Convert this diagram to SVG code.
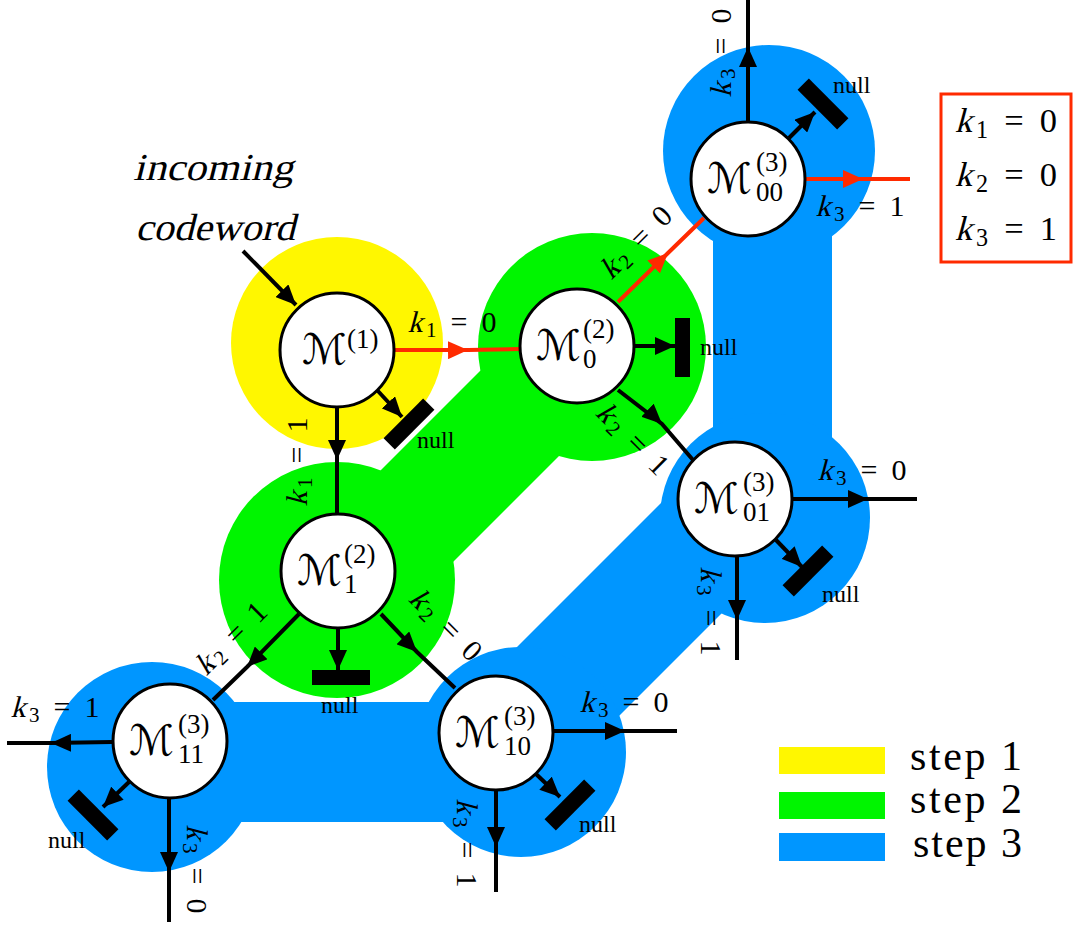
<svg xmlns="http://www.w3.org/2000/svg" width="1075" height="930" viewBox="0 0 1075 930">
<defs>
<marker id="ab" markerUnits="userSpaceOnUse" markerWidth="20" markerHeight="18" refX="20" refY="9" orient="auto" viewBox="0 0 20 18"><path d="M0,0 L20,9 L0,18 Z" fill="#000"/></marker>
<marker id="ar" markerUnits="userSpaceOnUse" markerWidth="20" markerHeight="18" refX="20" refY="9" orient="auto" viewBox="0 0 20 18"><path d="M0,0 L20,9 L0,18 Z" fill="#ff2a00"/></marker>
<style>
.node circle{fill:#fff;stroke:#000;stroke-width:3}
.c{fill:none;stroke:#000;stroke-width:4;marker-mid:url(#ab)}
.ce{fill:none;stroke:#000;stroke-width:4;marker-end:url(#ab)}
.cr{fill:none;stroke:#ff2a00;stroke-width:4;marker-mid:url(#ar)}
.bar{fill:#000}
text{font-family:"Liberation Serif",serif;fill:#000}
.e,.k{font-size:30px}
.s{font-size:21px}
.m{font-family:"DejaVu Serif","DejaVu Sans",serif;font-size:42px}
.ms{font-size:27px}
.nl{font-size:24px}
.lg{font-size:42px}
.y{fill:#fff700}.g{fill:#00f500}.b{fill:#0096ff}
</style>
</defs>

<g id="regions">
  <circle class="y" cx="337" cy="343" r="106"/>
  <circle class="g" cx="592" cy="347" r="114"/>
  <circle class="g" cx="337" cy="580" r="118"/>
  <polygon class="g" points="300,551 500,351 565,450 380,635"/>
  <circle class="b" cx="769" cy="151" r="106"/>
  <rect class="b" x="713" y="150" width="119" height="360"/>
  <circle class="b" cx="765" cy="518" r="105"/>
  <polygon class="b" points="690,474 775,560 575,760 500,664"/>
  <circle class="b" cx="521" cy="752" r="105"/>
  <circle class="b" cx="152" cy="767" r="105"/>
  <rect class="b" x="152" y="702" width="369" height="120"/>
</g>

<g id="connectors">
  <polyline class="ce" points="243,251 296,305"/>
  <polyline class="cr" points="394,350 468,350 520,349"/>
  <polyline class="c" points="337,407 337,460 337,513"/>
  <polyline class="ce" points="377,390 402,417"/>
  <polyline class="cr" points="618,302 668,253 704,218"/>
  <polyline class="ce" points="634,346 675,346"/>
  <polyline class="c" points="618,390 662,424 693,460"/>
  <polyline class="c" points="748,121 748,47 748,0"/>
  <polyline class="ce" points="789,138 815,112"/>
  <polyline class="cr" points="806,179 863,179 910,179"/>
  <polyline class="c" points="793,499 868,499 917,499"/>
  <polyline class="ce" points="776,540 802,567"/>
  <polyline class="c" points="737,557 737,620 737,660"/>
  <polyline class="c" points="299,614 247,667 213,700"/>
  <polyline class="ce" points="338,628 338,670"/>
  <polyline class="c" points="381,614 417,652 455,688"/>
  <polyline class="c" points="112,742 51,743 7,743"/>
  <polyline class="ce" points="129,782 103,807"/>
  <polyline class="c" points="169,799 169,872 169,922"/>
  <polyline class="c" points="553,731 625,731 677,731"/>
  <polyline class="ce" points="536,774 560,797"/>
  <polyline class="c" points="496,790 496,847 496,892"/>
</g>

<g id="edge-labels">
  <g transform="translate(453,323)"><text class="k" x="-43" y="9" transform="skewX(-15)">k</text><text class="e" x="-27" y="9"><tspan class="s" dy="5">1</tspan><tspan dx="14" dy="-5">=</tspan><tspan dx="14">0</tspan></text></g>
  <g transform="translate(298,461) rotate(-90)"><text class="k" x="-43" y="9" transform="skewX(-15)">k</text><text class="e" x="-27" y="9"><tspan class="s" dy="5">1</tspan><tspan dx="14" dy="-5">=</tspan><tspan dx="14">1</tspan></text></g>
  <g transform="translate(637,242) rotate(-45)"><text class="k" x="-43" y="9" transform="skewX(-15)">k</text><text class="e" x="-27" y="9"><tspan class="s" dy="4">2</tspan><tspan dx="14" dy="-4">=</tspan><tspan dx="14">0</tspan></text></g>
  <g transform="translate(633,440) rotate(45)"><text class="k" x="-43" y="9" transform="skewX(-15)">k</text><text class="e" x="-27" y="9"><tspan class="s" dy="4">2</tspan><tspan dx="14" dy="-4">=</tspan><tspan dx="14">1</tspan></text></g>
  <g transform="translate(722,52) rotate(-90)"><text class="k" x="-43" y="9" transform="skewX(-15)">k</text><text class="e" x="-27" y="9"><tspan class="s" dy="4">3</tspan><tspan dx="14" dy="-4">=</tspan><tspan dx="14">0</tspan></text></g>
  <g transform="translate(861,207)"><text class="k" x="-43" y="9" transform="skewX(-15)">k</text><text class="e" x="-27" y="9"><tspan class="s" dy="5">3</tspan><tspan dx="14" dy="-5">=</tspan><tspan dx="14">1</tspan></text></g>
  <g transform="translate(863,471)"><text class="k" x="-43" y="9" transform="skewX(-15)">k</text><text class="e" x="-27" y="9"><tspan class="s" dy="5">3</tspan><tspan dx="14" dy="-5">=</tspan><tspan dx="14">0</tspan></text></g>
  <g transform="translate(710,612) rotate(90)"><text class="k" x="-43" y="9" transform="skewX(-15)">k</text><text class="e" x="-27" y="9"><tspan class="s" dy="4">3</tspan><tspan dx="14" dy="-4">=</tspan><tspan dx="14">1</tspan></text></g>
  <g transform="translate(232,638) rotate(-45)"><text class="k" x="-43" y="9" transform="skewX(-15)">k</text><text class="e" x="-27" y="9"><tspan class="s" dy="4">2</tspan><tspan dx="14" dy="-4">=</tspan><tspan dx="14">1</tspan></text></g>
  <g transform="translate(446,626) rotate(45)"><text class="k" x="-43" y="9" transform="skewX(-15)">k</text><text class="e" x="-27" y="9"><tspan class="s" dy="4">2</tspan><tspan dx="14" dy="-4">=</tspan><tspan dx="14">0</tspan></text></g>
  <g transform="translate(56,708)"><text class="k" x="-43" y="9" transform="skewX(-15)">k</text><text class="e" x="-27" y="9"><tspan class="s" dy="5">3</tspan><tspan dx="14" dy="-5">=</tspan><tspan dx="14">1</tspan></text></g>
  <g transform="translate(196,870) rotate(90)"><text class="k" x="-43" y="9" transform="skewX(-15)">k</text><text class="e" x="-27" y="9"><tspan class="s" dy="4">3</tspan><tspan dx="14" dy="-4">=</tspan><tspan dx="14">0</tspan></text></g>
  <g transform="translate(625,703)"><text class="k" x="-43" y="9" transform="skewX(-15)">k</text><text class="e" x="-27" y="9"><tspan class="s" dy="5">3</tspan><tspan dx="14" dy="-5">=</tspan><tspan dx="14">0</tspan></text></g>
  <g transform="translate(466,844) rotate(90)"><text class="k" x="-43" y="9" transform="skewX(-15)">k</text><text class="e" x="-27" y="9"><tspan class="s" dy="4">3</tspan><tspan dx="14" dy="-4">=</tspan><tspan dx="14">1</tspan></text></g>
</g>

<g id="incoming">
  <text x="178" y="180" font-size="38" transform="skewX(-14)" textLength="160" lengthAdjust="spacingAndGlyphs">incoming</text>
  <text x="195" y="240" font-size="38" transform="skewX(-14)" textLength="160" lengthAdjust="spacingAndGlyphs">codeword</text>
</g>

<g id="node-M1" class="node">
  <circle cx="337" cy="350" r="57"/>
  <text x="302" y="364"><tspan class="m">ℳ</tspan><tspan class="ms" dy="-16">(1)</tspan></text>
</g>
<g id="node-M2-0" class="node">
  <circle cx="577" cy="346" r="57"/>
  <text x="536" y="360"><tspan class="m">ℳ</tspan><tspan class="ms" x="583" dy="-22">(2)</tspan><tspan class="ms" x="583" dy="30">0</tspan></text>
</g>
<g id="node-M2-1" class="node">
  <circle cx="338" cy="571" r="57"/>
  <text x="297" y="585"><tspan class="m">ℳ</tspan><tspan class="ms" x="344" dy="-22">(2)</tspan><tspan class="ms" x="344" dy="30">1</tspan></text>
</g>
<g id="node-M3-00" class="node">
  <circle cx="748" cy="179" r="57"/>
  <text x="707" y="193"><tspan class="m">ℳ</tspan><tspan class="ms" x="756" dy="-22">(3)</tspan><tspan class="ms" x="756" dy="30">00</tspan></text>
</g>
<g id="node-M3-01" class="node">
  <circle cx="735" cy="499" r="57"/>
  <text x="694" y="513"><tspan class="m">ℳ</tspan><tspan class="ms" x="743" dy="-22">(3)</tspan><tspan class="ms" x="743" dy="30">01</tspan></text>
</g>
<g id="node-M3-11" class="node">
  <circle cx="170" cy="741" r="57"/>
  <text x="129" y="755"><tspan class="m">ℳ</tspan><tspan class="ms" x="178" dy="-22">(3)</tspan><tspan class="ms" x="178" dy="30">11</tspan></text>
</g>
<g id="node-M3-10" class="node">
  <circle cx="496" cy="733" r="57"/>
  <text x="455" y="747"><tspan class="m">ℳ</tspan><tspan class="ms" x="504" dy="-22">(3)</tspan><tspan class="ms" x="504" dy="30">10</tspan></text>
</g>

<g id="null-M1">
  <rect class="bar" x="-28" y="-8" width="56" height="16" transform="translate(409,424) rotate(-45)"/>
  <text class="nl" x="417" y="448">null</text>
</g>
<g id="null-M2-0">
  <rect class="bar" x="675" y="318" width="15" height="59"/>
  <text class="nl" x="700" y="355">null</text>
</g>
<g id="null-M2-1">
  <rect class="bar" x="312" y="670" width="58" height="15"/>
  <text class="nl" x="321" y="713">null</text>
</g>
<g id="null-M3-00">
  <rect class="bar" x="-28" y="-8" width="56" height="16" transform="translate(823,104) rotate(45)"/>
  <text class="nl" x="833" y="93">null</text>
</g>
<g id="null-M3-01">
  <rect class="bar" x="-28" y="-8" width="56" height="16" transform="translate(808,571) rotate(-45)"/>
  <text class="nl" x="822" y="602">null</text>
</g>
<g id="null-M3-11">
  <rect class="bar" x="-28" y="-8" width="56" height="16" transform="translate(93,815) rotate(45)"/>
  <text class="nl" x="48" y="848">null</text>
</g>
<g id="null-M3-10">
  <rect class="bar" x="-28" y="-8" width="56" height="16" transform="translate(570,805) rotate(-45)"/>
  <text class="nl" x="579" y="832">null</text>
</g>

<g id="result-box">
  <rect x="941" y="94" width="130" height="168" fill="#fff" stroke="#ff2a00" stroke-width="3"/>
  <g transform="translate(1007,122) scale(1.15)"><text class="k" x="-43" y="9" transform="skewX(-15)">k</text><text class="e" x="-27" y="9"><tspan class="s" dy="5">1</tspan><tspan dx="14" dy="-5">=</tspan><tspan dx="14">0</tspan></text></g>
  <g transform="translate(1007,176) scale(1.15)"><text class="k" x="-43" y="9" transform="skewX(-15)">k</text><text class="e" x="-27" y="9"><tspan class="s" dy="5">2</tspan><tspan dx="14" dy="-5">=</tspan><tspan dx="14">0</tspan></text></g>
  <g transform="translate(1007,230) scale(1.15)"><text class="k" x="-43" y="9" transform="skewX(-15)">k</text><text class="e" x="-27" y="9"><tspan class="s" dy="5">3</tspan><tspan dx="14" dy="-5">=</tspan><tspan dx="14">1</tspan></text></g>
</g>

<g id="legend">
  <rect class="y" x="779" y="747" width="106" height="27"/>
  <rect class="g" x="779" y="792" width="106" height="27"/>
  <rect class="b" x="779" y="833" width="106" height="28"/>
  <text class="lg" x="910" y="770" textLength="112" lengthAdjust="spacing">step 1</text>
  <text class="lg" x="910" y="813" textLength="112" lengthAdjust="spacing">step 2</text>
  <text class="lg" x="913" y="857" textLength="109" lengthAdjust="spacing">step 3</text>
</g>
</svg>
